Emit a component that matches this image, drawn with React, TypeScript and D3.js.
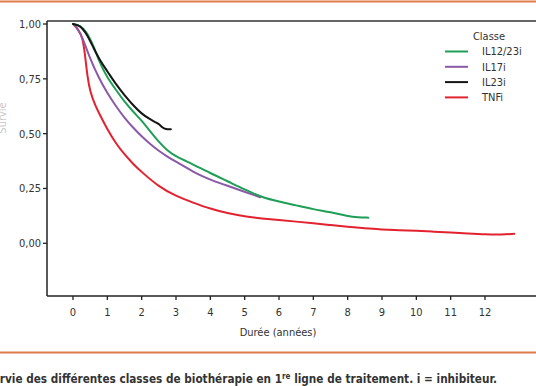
import React from "react";
import * as d3 from "d3";

const W = 536;
const H = 386;

const xTicks = [0, 1, 2, 3, 4, 5, 6, 7, 8, 9, 10, 11, 12];
const yTicks = [0, 0.25, 0.5, 0.75, 1];
const yTickLabels = ["0,00", "0,25", "0,50", "0,75", "1,00"];

const seriesNames = ["IL12/23i", "IL17i", "IL23i", "TNFi"];
const seriesColors = ["#1f9e55", "#8a5aa8", "#151515", "#e2222f"];

const tGreen = [0, 0.2, 0.4, 0.6, 0.8, 1.0, 1.25, 1.5, 1.75, 2.0, 2.25, 2.5, 2.75, 3.0, 3.5, 4.0, 4.5, 5.0, 5.5, 6.0, 6.5, 7.0, 7.5, 8.0, 8.3, 8.6];
const sGreen = [1.0, 0.995, 0.965, 0.9, 0.815, 0.755, 0.7, 0.645, 0.6, 0.56, 0.51, 0.462, 0.422, 0.395, 0.36, 0.32, 0.283, 0.245, 0.21, 0.19, 0.173, 0.155, 0.142, 0.124, 0.118, 0.117];

const tPurple = [0, 0.1, 0.3, 0.5, 0.75, 1.0, 1.25, 1.5, 1.75, 2.0, 2.25, 2.5, 2.75, 3.0, 3.25, 3.5, 3.75, 4.0, 4.5, 5.0, 5.45];
const sPurple = [1.0, 0.99, 0.93, 0.84, 0.755, 0.685, 0.625, 0.572, 0.527, 0.487, 0.452, 0.421, 0.395, 0.372, 0.349, 0.327, 0.307, 0.29, 0.262, 0.235, 0.21];

const tBlack = [0, 0.2, 0.4, 0.6, 0.8, 1.0, 1.25, 1.5, 1.75, 2.0, 2.25, 2.4, 2.5, 2.6, 2.7, 2.85];
const sBlack = [1.0, 0.995, 0.955, 0.89, 0.83, 0.785, 0.725, 0.675, 0.63, 0.59, 0.565, 0.552, 0.545, 0.528, 0.52, 0.52];

const tRed = [0, 0.15, 0.28, 0.35, 0.42, 0.5, 0.65, 0.8, 1.0, 1.25, 1.5, 1.75, 2.0, 2.5, 3.0, 3.5, 4.0, 4.5, 5.0, 5.5, 6.0, 6.5, 7.0, 7.5, 8.0, 8.5, 9.0, 9.5, 10, 10.5, 11, 11.5, 12, 12.5, 12.85];
const sRed = [1.0, 0.975, 0.94, 0.86, 0.76, 0.69, 0.628, 0.58, 0.52, 0.455, 0.405, 0.362, 0.325, 0.258, 0.215, 0.185, 0.157, 0.137, 0.122, 0.113, 0.106, 0.099, 0.091, 0.083, 0.075, 0.068, 0.063, 0.06, 0.057, 0.053, 0.049, 0.045, 0.041, 0.04, 0.043];

const seriesT = [tGreen, tPurple, tBlack, tRed];
const seriesS = [sGreen, sPurple, sBlack, sRed];
const drawOrder = [3, 1, 0, 2];

const FONT = "'DejaVu Sans Condensed', 'DejaVu Sans', sans-serif";

export default function App() {
  const x = d3.scaleLinear().domain([0, 12]).range([73, 485]);
  const y = d3.scaleLinear().domain([0, 1]).range([243.3, 24]);
  const line = d3
    .line<[number, number]>()
    .x((d) => x(d[0]))
    .y((d) => y(d[1]))
    .curve(d3.curveBasis);

  const axisLeftX = 47;
  const axisBottomY = 296;
  const topY = 21;

  return (
    <svg
      width={W}
      height={H}
      style={{ position: "absolute", left: 0, top: 0, background: "#fff" }}
      fontFamily={FONT}
    >
      <rect x={0} y={0} width={W} height={H} fill="#fff" />
      <line x1={0} x2={W} y1={1.5} y2={1.5} stroke="#e07a4a" strokeWidth={2} />
      <line x1={axisLeftX} x2={W} y1={topY} y2={topY} stroke="#333" strokeWidth={1.5} />
      <line x1={axisLeftX} x2={axisLeftX} y1={topY} y2={axisBottomY} stroke="#222" strokeWidth={1.5} />
      <line x1={axisLeftX} x2={W} y1={axisBottomY} y2={axisBottomY} stroke="#222" strokeWidth={1.5} />

      <text
        transform={`translate(6,118) rotate(-90)`}
        textAnchor="middle"
        fontSize={11}
        fill="#c8c8c8"
      >
        Survie
      </text>

      {yTicks.map((v, i) => (
        <g key={"y" + i}>
          <line x1={axisLeftX - 4} x2={axisLeftX} y1={y(v)} y2={y(v)} stroke="#222" strokeWidth={1.3} />
          <text x={axisLeftX - 6} y={y(v)} dy="0.35em" textAnchor="end" fontSize={11} fill="#333">
            {yTickLabels[i]}
          </text>
        </g>
      ))}

      {xTicks.map((v) => (
        <g key={"x" + v}>
          <line x1={x(v)} x2={x(v)} y1={axisBottomY} y2={axisBottomY + 4} stroke="#222" strokeWidth={1.3} />
          <text x={x(v)} y={axisBottomY + 16} dy="0.35em" textAnchor="middle" fontSize={11} fill="#333">
            {v}
          </text>
        </g>
      ))}
      <text x={278} y={332} dy="0.35em" textAnchor="middle" fontSize={11} fill="#333">
        Durée (années)
      </text>

      {drawOrder.map((k) => {
        const pts: [number, number][] = seriesT[k].map((t, j) => [t, seriesS[k][j]]);
        return (
          <path
            key={"c" + k}
            d={line(pts) || ""}
            fill="none"
            stroke={seriesColors[k]}
            strokeWidth={2}
            strokeLinejoin="round"
            strokeLinecap="round"
          />
        );
      })}

      <text x={489} y={36} dy="0.35em" textAnchor="middle" fontSize={11} fill="#333">
        Classe
      </text>
      {seriesNames.map((n, i) => {
        const ly = 51.5 + i * 15.3;
        return (
          <g key={"l" + i}>
            <line x1={445} x2={468} y1={ly} y2={ly} stroke={seriesColors[i]} strokeWidth={2} />
            <text x={482} y={ly} dy="0.35em" fontSize={11} fill="#333">
              {n}
            </text>
          </g>
        );
      })}

      <line x1={0} x2={W} y1={352.5} y2={352.5} stroke="#e07a4a" strokeWidth={2} />
      <text x={497} y={383} textAnchor="end" fontSize={11.7} fontWeight={600} fill="#333">
        Survie des différentes classes de biothérapie en 1
        <tspan fontSize={8} baselineShift="super">re</tspan>
        {" ligne de traitement. i = inhibiteur."}
      </text>
    </svg>
  );
}
